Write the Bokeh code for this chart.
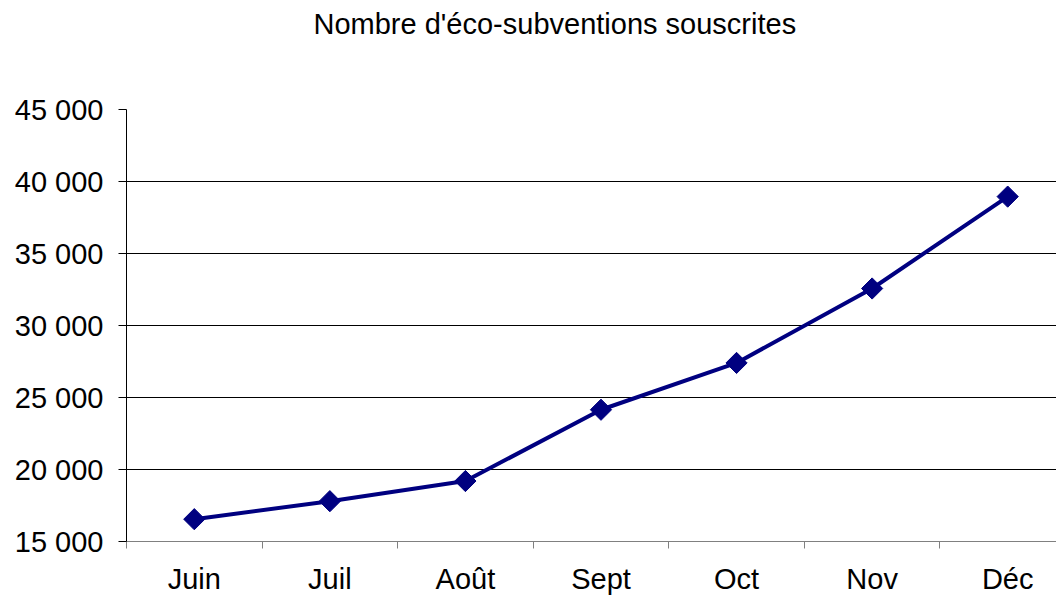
import numpy as np
from bokeh.plotting import figure
from bokeh.models import FixedTicker, Range1d, Title
from bokeh.embed import file_html
from bokeh.resources import INLINE

months = ["Juin", "Juil", "Août", "Sept", "Oct", "Nov", "Déc"]
values = [16550, 17800, 19200, 24150, 27400, 32570, 38950]
y_ticks = [15000, 20000, 25000, 30000, 35000, 40000, 45000]
y_tick_labels = ["15 000", "20 000", "25 000", "30 000", "35 000", "40 000", "45 000"]
title_text = "Nombre d'éco-subventions souscrites"

FONT = "Liberation Sans"
xs = list(range(len(months)))

p = figure(width=1056, height=597, output_backend="svg", toolbar_location=None,
           x_range=Range1d(-0.5, 6.36), y_range=Range1d(15000, 45000),
           min_border_left=126, min_border_right=0, min_border_top=109,
           min_border_bottom=0)
p.title = None

# spacer between the frame and the title
spacer = Title(text=" ", text_font=FONT, text_font_size="29px",
               align="left", standoff=28)
p.add_layout(spacer, "above")

main_title = Title(text=title_text, text_font=FONT, text_font_size="29px",
                   text_font_style="normal", text_color="#000000",
                   align="left", vertical_align="top", offset=187, standoff=12)
p.add_layout(main_title, "above")

p.outline_line_color = None
p.background_fill_color = "white"
p.border_fill_color = "white"

# x axis
p.xaxis.ticker = FixedTicker(ticks=xs, minor_ticks=[i - 0.5 for i in range(len(months) + 1)])
p.xaxis.major_label_overrides = {i: m for i, m in enumerate(months)}
p.xaxis.major_tick_line_color = None
p.xaxis.major_tick_out = 7
p.xaxis.major_tick_in = 0
p.xaxis.minor_tick_out = 7
p.xaxis.minor_tick_in = 0
p.xaxis.minor_tick_line_color = "#808080"
p.xaxis.axis_line_color = "#808080"
p.xaxis.major_label_text_font = FONT
p.xaxis.major_label_text_font_size = "29px"
p.xaxis.major_label_text_color = "#000000"
p.xaxis.major_label_standoff = 14

# y axis
p.yaxis.ticker = FixedTicker(ticks=y_ticks)
p.yaxis.major_label_overrides = {v: s for v, s in zip(y_ticks, y_tick_labels)}
p.yaxis.major_tick_out = 8
p.yaxis.major_tick_in = 0
p.yaxis.minor_tick_line_color = None
p.yaxis.axis_line_color = "#000000"
p.yaxis.major_tick_line_color = "#000000"
p.yaxis.major_label_text_font = FONT
p.yaxis.major_label_text_font_size = "29px"
p.yaxis.major_label_text_color = "#000000"
p.yaxis.major_label_standoff = 15

# grids
p.xgrid.visible = False
p.ygrid.ticker = FixedTicker(ticks=y_ticks[1:-1])
p.ygrid.grid_line_color = "#000000"
p.ygrid.grid_line_width = 1

p.line(xs, values, line_color="#000080", line_width=4)
p.scatter(xs, values, marker="square", size=15, angle=np.pi / 4,
          fill_color="#000080", line_color="#000080")

open("out.html", "w").write(file_html(p, INLINE))
